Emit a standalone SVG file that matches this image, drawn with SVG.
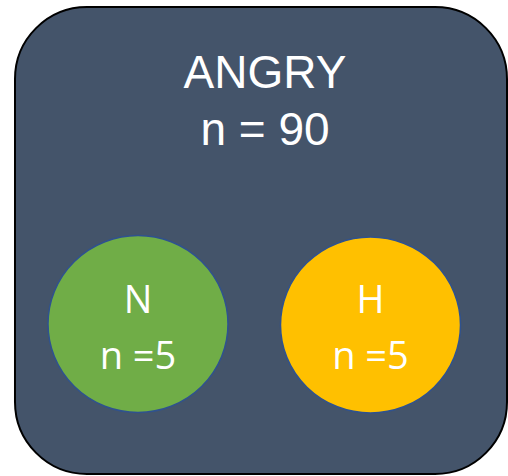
<svg xmlns="http://www.w3.org/2000/svg" width="508" height="476" viewBox="0 0 508 476">
<style>
.t{fill:#fff;font-family:"Liberation Sans",Arial,sans-serif;text-anchor:middle;font-size:46px}
.c{fill:#fff;font-family:"Open Sans","Noto Sans",sans-serif;text-anchor:middle;font-size:38px}
.circ{stroke:#2F528F;stroke-width:1.5}
</style>
<rect width="508" height="476" fill="#fff"/>
<g id="angry">
<rect x="15" y="7" width="492" height="467" rx="72" ry="72" fill="#44546A" stroke="#000" stroke-width="2"/>
<text class="t" x="265" y="88">ANGRY</text>
<text class="t" x="265" y="145">n = 90</text>
</g>
<g id="connectors"/>
<g id="N">
<ellipse class="circ" cx="138" cy="324" rx="90" ry="88.5" fill="#70AD47"/>
<text class="c" x="138" y="313">N</text>
<text class="c" x="138" y="369">n =5</text>
</g>
<g id="H">
<ellipse class="circ" cx="370.5" cy="325" rx="90" ry="88" fill="#FFC000"/>
<text class="c" x="370.5" y="313">H</text>
<text class="c" x="370.5" y="369">n =5</text>
</g>
</svg>
